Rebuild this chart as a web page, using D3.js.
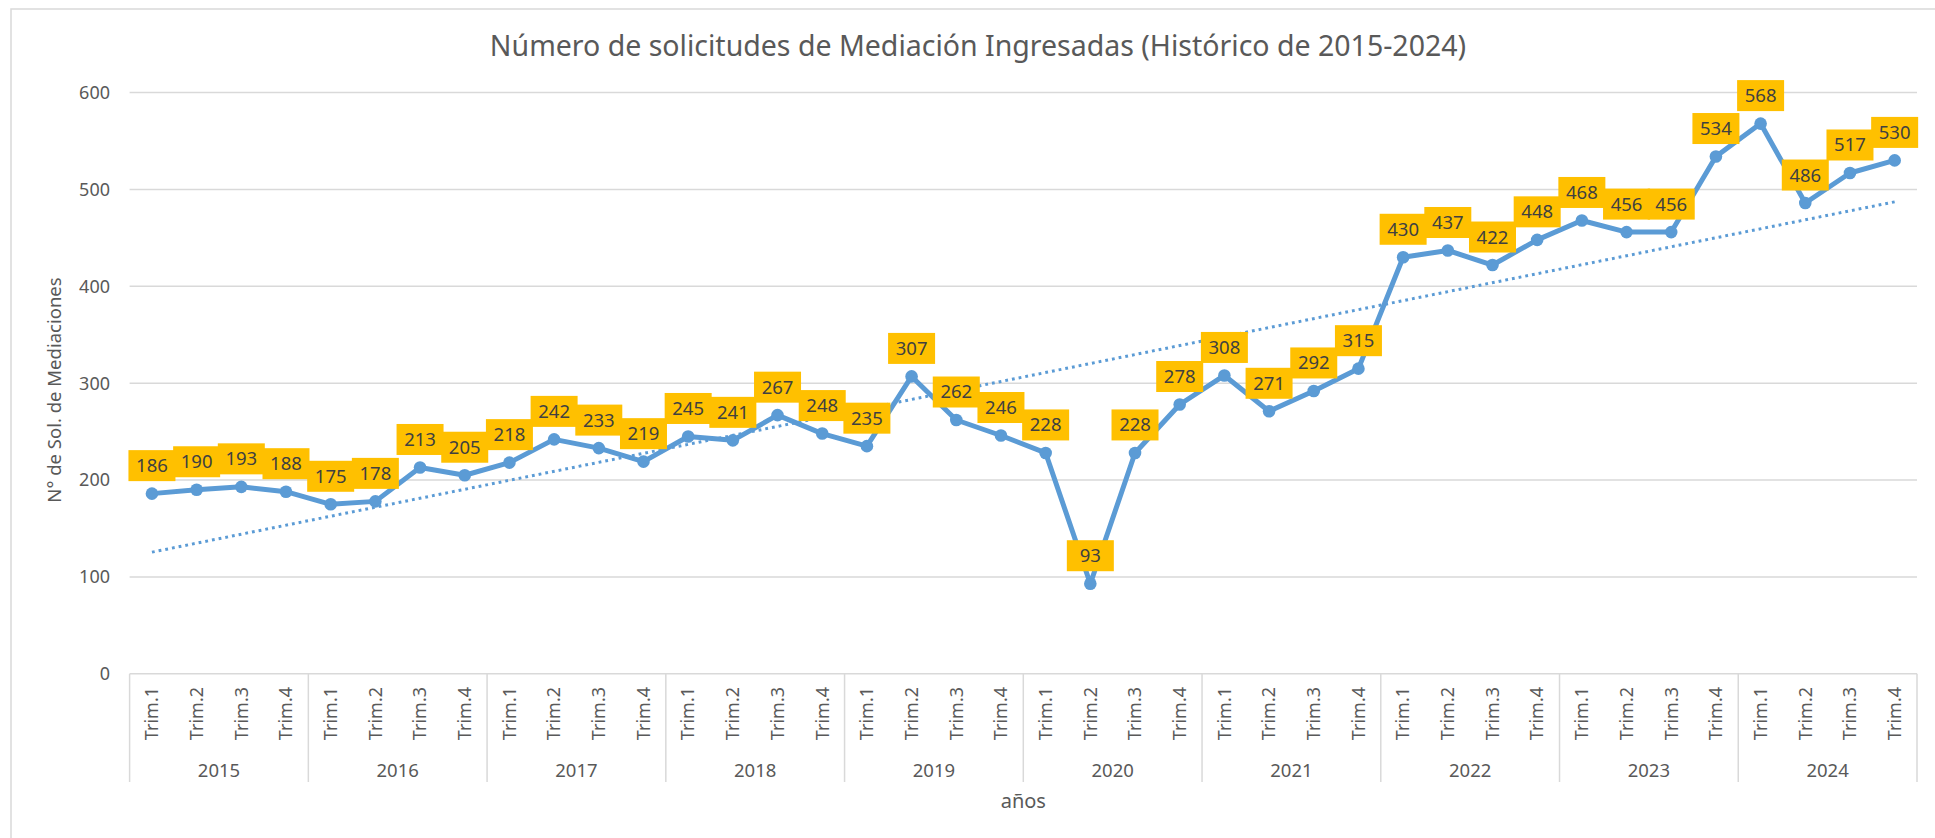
<!DOCTYPE html>
<html>
<head>
<meta charset="utf-8">
<script src="https://cdn.jsdelivr.net/npm/d3@7"></script>
<style>
  html, body { margin: 0; padding: 0; background: #ffffff; }
  svg { display: block; font-family: 'Noto Sans', 'Open Sans', sans-serif; }
</style>
</head>
<body>
<div id="content"></div>
<script>
// Datos
const years = ['2015', '2016', '2017', '2018', '2019', '2020', '2021', '2022', '2023', '2024'];
const quarters = ['Trim.1', 'Trim.2', 'Trim.3', 'Trim.4'];
const values = [
    186, 190, 193, 188,
    175, 178, 213, 205,
    218, 242, 233, 219,
    245, 241, 267, 248,
    235, 307, 262, 246,
    228, 93, 228, 278,
    308, 271, 292, 315,
    430, 437, 422, 448,
    468, 456, 456, 534,
    568, 486, 517, 530
];
const yTicks = [0, 100, 200, 300, 400, 500, 600];

const width = 1935;
const height = 838;

const blue = '#5B9BD5';
const grid = '#D9D9D9';
const textGray = '#595959';

// Puntos: una entrada por trimestre
const points = values.map((v, i) => ({
    key: years[Math.floor(i / 4)] + '-' + quarters[i % 4],
    year: years[Math.floor(i / 4)],
    quarter: quarters[i % 4],
    value: v,
    i: i
}));

const svg = d3.select('#content')
    .append('svg')
    .attr('width', width)
    .attr('height', height);

// Marco del grafico (cortado por la derecha y abajo)
svg.append('rect')
    .attr('x', 11)
    .attr('y', 9)
    .attr('width', width + 20)
    .attr('height', height + 20)
    .attr('fill', 'none')
    .attr('stroke', grid)
    .attr('stroke-width', 1.5);

const x = d3.scaleBand()
    .domain(points.map(d => d.key))
    .range([129.6, 1917])
    .padding(0);

const y = d3.scaleLinear()
    .domain([0, 600])
    .range([673.8, 92.6]);

const cx = d => x(d.key) + x.bandwidth() / 2;

// Lineas de division horizontales
svg.append('g')
    .selectAll('line')
    .data(yTicks)
    .enter()
    .append('line')
    .attr('x1', x.range()[0])
    .attr('x2', x.range()[1])
    .attr('y1', d => y(d))
    .attr('y2', d => y(d))
    .attr('stroke', grid)
    .attr('stroke-width', 1.5);

// Etiquetas del eje Y
svg.append('g')
    .selectAll('text')
    .data(yTicks)
    .enter()
    .append('text')
    .attr('x', 110)
    .attr('y', d => y(d))
    .attr('dy', '0.35em')
    .attr('text-anchor', 'end')
    .attr('fill', textGray)
    .style('font-size', '18px')
    .text(d => d);

// Separadores de anio en el eje de categorias
const sepX = years.map((yr, i) => x(points[i * 4].key)).concat([x.range()[1]]);
svg.append('g')
    .selectAll('line')
    .data(sepX)
    .enter()
    .append('line')
    .attr('x1', d => d)
    .attr('x2', d => d)
    .attr('y1', y(0))
    .attr('y2', 782)
    .attr('stroke', grid)
    .attr('stroke-width', 1.5);

// Etiquetas de trimestre (rotadas)
svg.append('g')
    .selectAll('text')
    .data(points)
    .enter()
    .append('text')
    .attr('transform', d => `translate(${cx(d)}, 687) rotate(-90)`)
    .attr('dy', '0.35em')
    .attr('text-anchor', 'end')
    .attr('fill', textGray)
    .style('font-size', '18px')
    .text(d => d.quarter);

// Etiquetas de anio
svg.append('g')
    .selectAll('text')
    .data(years)
    .enter()
    .append('text')
    .attr('x', (d, i) => (sepX[i] + sepX[i + 1]) / 2)
    .attr('y', 777)
    .attr('text-anchor', 'middle')
    .attr('fill', textGray)
    .style('font-size', '18.5px')
    .text(d => d);

// Linea de tendencia lineal (minimos cuadrados)
const n = values.length;
const meanX = d3.mean(points, d => d.i);
const meanY = d3.mean(values);
const slope = d3.sum(points, d => (d.i - meanX) * (d.value - meanY)) / d3.sum(points, d => (d.i - meanX) ** 2);
const intercept = meanY - slope * meanX;
const trend = [points[0], points[n - 1]].map(d => ({ key: d.key, value: intercept + slope * d.i }));

svg.append('path')
    .datum(trend)
    .attr('fill', 'none')
    .attr('stroke', blue)
    .attr('stroke-width', 3)
    .attr('stroke-dasharray', '2.8 4')
    .attr('d', d3.line().x(cx).y(d => y(d.value)));

// Serie principal
svg.append('path')
    .datum(points)
    .attr('fill', 'none')
    .attr('stroke', blue)
    .attr('stroke-width', 5)
    .attr('stroke-linejoin', 'round')
    .attr('d', d3.line().x(cx).y(d => y(d.value)));

svg.append('g')
    .selectAll('circle')
    .data(points)
    .enter()
    .append('circle')
    .attr('cx', cx)
    .attr('cy', d => y(d.value))
    .attr('r', 6.3)
    .attr('fill', blue);

// Etiquetas de datos con fondo amarillo
const labels = svg.append('g')
    .selectAll('g')
    .data(points)
    .enter()
    .append('g')
    .attr('transform', d => `translate(${cx(d)}, ${y(d.value) - 28})`);

labels.append('rect')
    .attr('x', -23.5)
    .attr('y', -15.5)
    .attr('width', 47)
    .attr('height', 31)
    .attr('fill', '#FFC000');

labels.append('text')
    .attr('dy', '0.35em')
    .attr('text-anchor', 'middle')
    .attr('fill', '#404040')
    .style('font-size', '18.5px')
    .text(d => d.value);

// Titulo
svg.append('text')
    .attr('x', 978)
    .attr('y', 56)
    .attr('text-anchor', 'middle')
    .attr('fill', textGray)
    .style('font-size', '28.5px')
    .text('Número de solicitudes de Mediación Ingresadas (Histórico de 2015-2024)');

// Titulos de ejes
svg.append('text')
    .attr('transform', 'translate(55, 390) rotate(-90)')
    .attr('dy', '0.35em')
    .attr('text-anchor', 'middle')
    .attr('fill', textGray)
    .style('font-size', '18.5px')
    .text('N° de Sol. de Mediaciones');

svg.append('text')
    .attr('x', (x.range()[0] + x.range()[1]) / 2)
    .attr('y', 801)
    .attr('dy', '0.35em')
    .attr('text-anchor', 'middle')
    .attr('fill', textGray)
    .style('font-size', '20px')
    .text('años');
</script>
</body>
</html>
